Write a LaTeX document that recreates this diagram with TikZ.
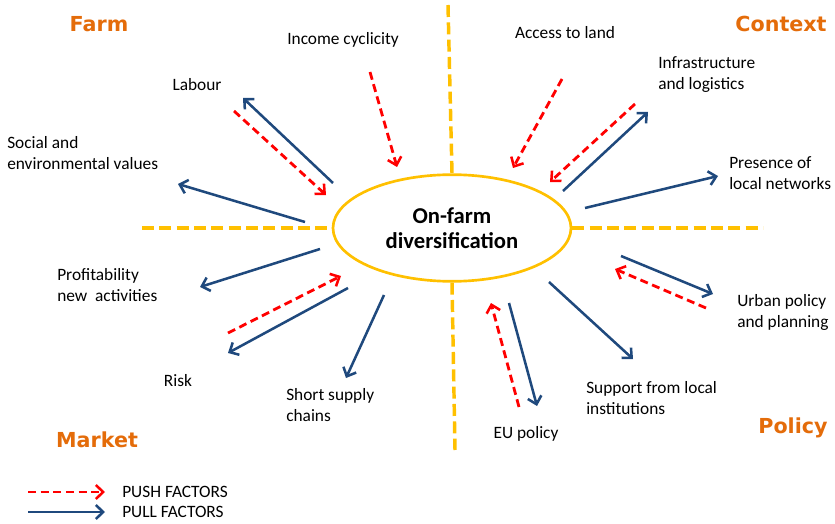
\documentclass[tikz,border=0pt]{standalone}
\usepackage{fontspec}
\setmainfont{Carlito}
\newfontfamily\titlefont{DejaVu Sans}
\usetikzlibrary{arrows.meta,shapes.geometric}
\definecolor{pullblue}{RGB}{31,73,125}
\definecolor{pushred}{RGB}{255,0,0}
\definecolor{axisgold}{RGB}{255,192,0}
\definecolor{titleorange}{RGB}{228,108,10}

\begin{document}
\begin{tikzpicture}[x=0.75pt,y=-0.75pt,
  barb/.style={-{Straight Barb[length=5.5pt,width=10.5pt,line width=1.9pt]}},
  pull/.style={draw=pullblue, line width=1.9pt, barb},
  push/.style={draw=pushred, line width=2.1pt, dash pattern=on 6pt off 3.5pt, barb},
  axis/.style={draw=axisgold, line width=2.6pt, dash pattern=on 9pt off 4pt},
  lbl/.style={font=\fontsize{13}{15.75}\selectfont, align=left, inner sep=0pt},
  quadrant/.style={font=\titlefont\bfseries\fontsize{15.5}{18}\selectfont, text=titleorange, inner sep=0pt}]

\useasboundingbox (0,0) rectangle (835,524);

% central hub
\node[ellipse, draw=axisgold, line width=2pt, minimum width=178.5pt, minimum height=80pt,
      inner sep=0pt, align=center, font=\bfseries\fontsize{17}{19}\selectfont]
  (hub) at (452,228) {On-farm\\diversification};

% quadrant axes
\coordinate (axN) at (448,5);
\coordinate (axS) at (455,450);
\coordinate (axW) at (142,228);
\coordinate (axE) at (763,228);
\draw[axis] (axN) -- (hub.north);
\draw[axis] (hub.south) -- (axS);
\draw[axis] (axW) -- (hub.west);
\draw[axis] (hub.east) -- (axE);

% quadrant titles
\node[quadrant] (tFarm) at (99,24) {Farm};
\node[quadrant] (tContext) at (781,24) {Context};
\node[quadrant] (tMarket) at (97,440) {Market};
\node[quadrant] (tPolicy) at (793,428) {Policy};

% factor labels
\node[lbl] (lIncome) at (343,40) {Income cyclicity};
\node[lbl] (lAccess) at (565,33) {Access to land};
\node[lbl] (lLabour) at (197,85) {Labour};
\node[lbl, anchor=west] (lInfra) at (658,74.5) {Infrastructure\\and logistics};
\node[lbl, anchor=west] (lSocial) at (7,153.5) {Social and\\environmental values};
\node[lbl, anchor=west] (lNetworks) at (729,173.5) {Presence of\\local networks};
\node[lbl, anchor=west] (lProfit) at (57,285.5) {Profitability\\new\ \ activities};
\node[lbl, anchor=west] (lUrban) at (737,312.5) {Urban policy\\and planning};
\node[lbl] (lRisk) at (178,381) {Risk};
\node[lbl, anchor=west] (lShort) at (286,405) {Short supply\\chains};
\node[lbl, anchor=west] (lSupport) at (586,398) {Support from local\\institutions};
\node[lbl] (lEU) at (526,434) {EU policy};

% arrow end points
\coordinate (incA) at (370,72);   \coordinate (incB) at (397,167);
\coordinate (labA) at (234,111);  \coordinate (labB) at (326,195);
\coordinate (accA) at (562,79);   \coordinate (accB) at (513,168);
\coordinate (infA) at (635,104);  \coordinate (infB) at (550,182);
\coordinate (urbA) at (706,308);  \coordinate (urbB) at (615,269);
\coordinate (euA) at (519,407);   \coordinate (euB) at (491,303);
\coordinate (riskA) at (228,333); \coordinate (riskB) at (341,276);

\coordinate (labC) at (333,183);  \coordinate (labD) at (243,98);
\coordinate (socC) at (305,222);  \coordinate (socD) at (178,184);
\coordinate (proC) at (320,249);  \coordinate (proD) at (200,287);
\coordinate (riskC) at (348,288); \coordinate (riskD) at (228,353);
\coordinate (shoC) at (384,295);  \coordinate (shoD) at (346,378);
\coordinate (euC) at (509,303);   \coordinate (euD) at (537,406);
\coordinate (supC) at (549,282);  \coordinate (supD) at (633,359);
\coordinate (urbC) at (621,256);  \coordinate (urbD) at (713,294);
\coordinate (netC) at (585,208);  \coordinate (netD) at (718,176);
\coordinate (infC) at (563,191);  \coordinate (infD) at (648,112);

% push factors
\draw[push] (incA) -- (incB);
\draw[push] (labA) -- (labB);
\draw[push] (accA) -- (accB);
\draw[push] (infA) -- (infB);
\draw[push] (urbA) -- (urbB);
\draw[push] (euA) -- (euB);
\draw[push] (riskA) -- (riskB);

% pull factors
\draw[pull] (labC) -- (labD);
\draw[pull] (socC) -- (socD);
\draw[pull] (proC) -- (proD);
\draw[pull] (riskC) -- (riskD);
\draw[pull] (shoC) -- (shoD);
\draw[pull] (euC) -- (euD);
\draw[pull] (supC) -- (supD);
\draw[pull] (urbC) -- (urbD);
\draw[pull] (netC) -- (netD);
\draw[pull] (infC) -- (infD);

% legend
\coordinate (legPushA) at (28,492); \coordinate (legPushB) at (105,492);
\coordinate (legPullA) at (28,512); \coordinate (legPullB) at (105,512);
\draw[push] (legPushA) -- (legPushB);
\draw[pull] (legPullA) -- (legPullB);
\node[lbl, anchor=west] (legPush) at (122,492) {PUSH FACTORS};
\node[lbl, anchor=west] (legPull) at (122,512) {PULL FACTORS};
\end{tikzpicture}
\end{document}
